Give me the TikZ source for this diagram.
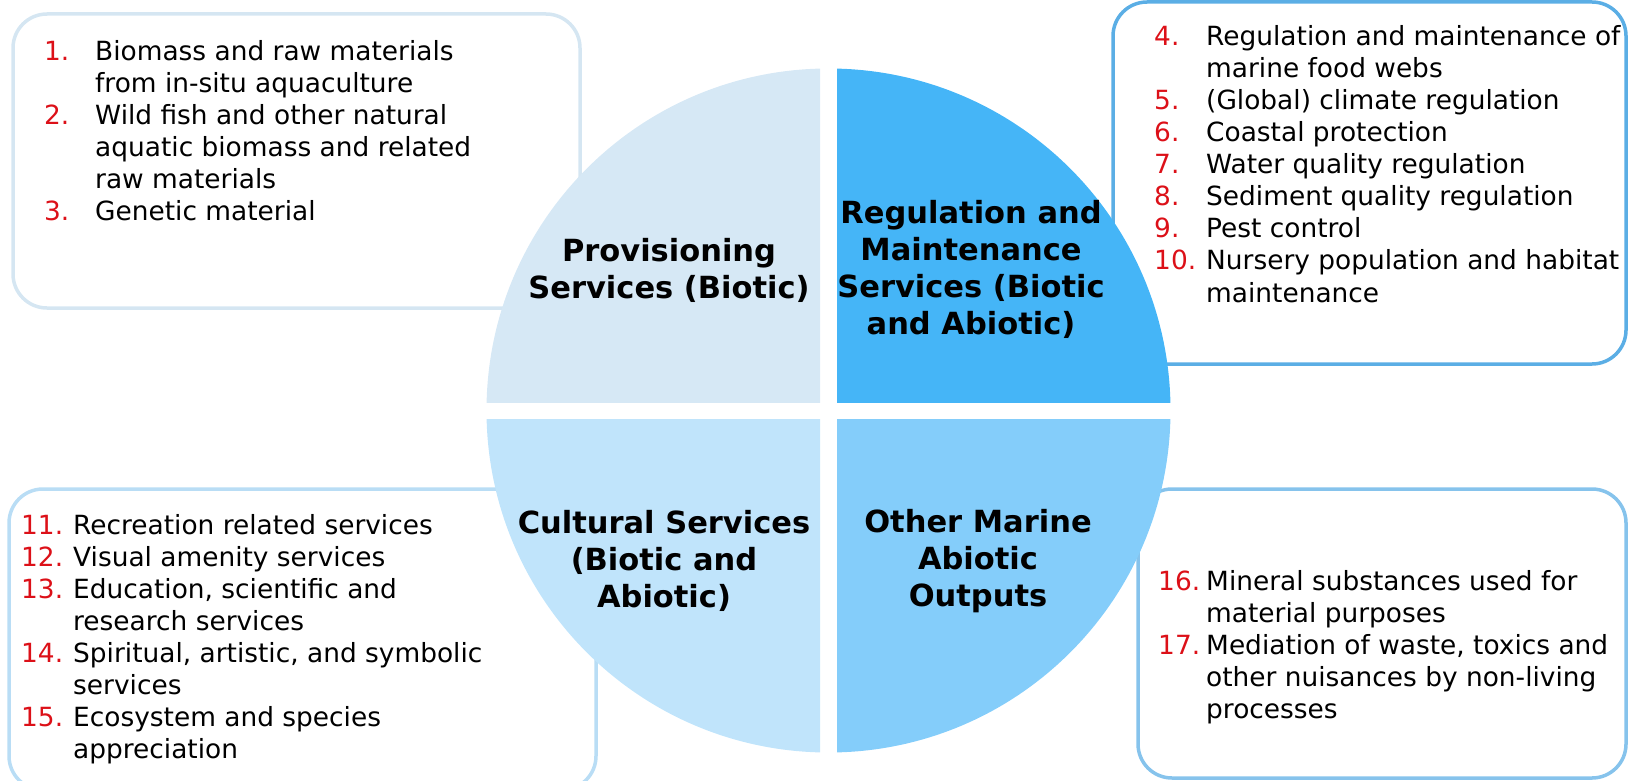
\documentclass[tikz,border=0pt]{standalone}
\usepackage{fontspec}
\setmainfont{DejaVu Sans}
\definecolor{numred}{RGB}{220,16,24}
\definecolor{qtl}{RGB}{214,232,245}
\definecolor{qtr}{RGB}{69,181,247}
\definecolor{qbl}{RGB}{192,228,251}
\definecolor{qbr}{RGB}{132,205,250}
\definecolor{btl}{RGB}{213,230,242}
\definecolor{btr}{RGB}{91,174,229}
\definecolor{bbl}{RGB}{185,221,245}
\definecolor{bbr}{RGB}{134,195,236}
\newcommand{\nm}[2]{\makebox[#1][l]{\textcolor{numred}{#2}}}
\tikzset{
  listbox/.style={line width=3.5pt, rounded corners=34pt},
  listtext/.style={anchor=base west, inner sep=0pt, font=\fontsize{26.4}{32}\selectfont},
  title/.style={align=center, inner sep=0pt, font=\fontsize{30.5}{37}\selectfont\bfseries}
}
\begin{document}
\begin{tikzpicture}[x=1pt,y=-1pt]
\useasboundingbox (0,0) rectangle (1629,781);
% boxes
\draw[listbox, draw=btl] (13,14) rectangle (580,308);
\draw[listbox, draw=btr] (1113,2) rectangle (1626,364);
\draw[listbox, draw=bbl] (9,489) rectangle (596,790);
\draw[listbox, draw=bbr] (1138,489) rectangle (1626,778);
% quadrants
\coordinate (c) at (828.5,410.5);
\begin{scope}
\clip (0,0) rectangle (820,402);
\fill[qtl] (c) circle (342);
\end{scope}
\begin{scope}
\clip (837,0) rectangle (1629,402);
\fill[qtr] (c) circle (342);
\end{scope}
\begin{scope}
\clip (0,419) rectangle (820,781);
\fill[qbl] (c) circle (342);
\end{scope}
\begin{scope}
\clip (837,419) rectangle (1629,781);
\fill[qbr] (c) circle (342);
\end{scope}
% titles
\node[title] (tprov) at (669,270) {Provisioning\\Services (Biotic)};
\node[title] (treg) at (971,269) {Regulation and\\Maintenance\\Services (Biotic\\and Abiotic)};
\node[title] (tcult) at (664,561) {Cultural Services\\(Biotic and\\Abiotic)};
\node[title] (tother) at (978,561) {Other Marine\\Abiotic\\Outputs};
% lists
\node[listtext] (lprov) at (44,61) {\begin{tabular}[t]{@{}l@{}l@{}}
\nm{51pt}{1.} & Biomass and raw materials\\
 & from in-situ aquaculture\\
\nm{51pt}{2.} & Wild fish and other natural\\
 & aquatic biomass and related\\
 & raw materials\\
\nm{51pt}{3.} & Genetic material
\end{tabular}};
\node[listtext] (lreg) at (1154,46) {\begin{tabular}[t]{@{}l@{}l@{}}
\nm{52pt}{4.} & Regulation and maintenance of\\
 & marine food webs\\
\nm{52pt}{5.} & (Global) climate regulation\\
\nm{52pt}{6.} & Coastal protection\\
\nm{52pt}{7.} & Water quality regulation\\
\nm{52pt}{8.} & Sediment quality regulation\\
\nm{52pt}{9.} & Pest control\\
\nm{52pt}{10.} & Nursery population and habitat\\
 & maintenance
\end{tabular}};
\node[listtext] (lcult) at (21,534) {\begin{tabular}[t]{@{}l@{}l@{}}
\nm{52pt}{11.} & Recreation related services\\
\nm{52pt}{12.} & Visual amenity services\\
\nm{52pt}{13.} & Education, scientific and\\
 & research services\\
\nm{52pt}{14.} & Spiritual, artistic, and symbolic\\
 & services\\
\nm{52pt}{15.} & Ecosystem and species\\
 & appreciation
\end{tabular}};
\node[listtext] (lother) at (1158,590) {\begin{tabular}[t]{@{}l@{}l@{}}
\nm{48pt}{16.} & Mineral substances used for\\
 & material purposes\\
\nm{48pt}{17.} & Mediation of waste, toxics and\\
 & other nuisances by non-living\\
 & processes
\end{tabular}};
\end{tikzpicture}
\end{document}
